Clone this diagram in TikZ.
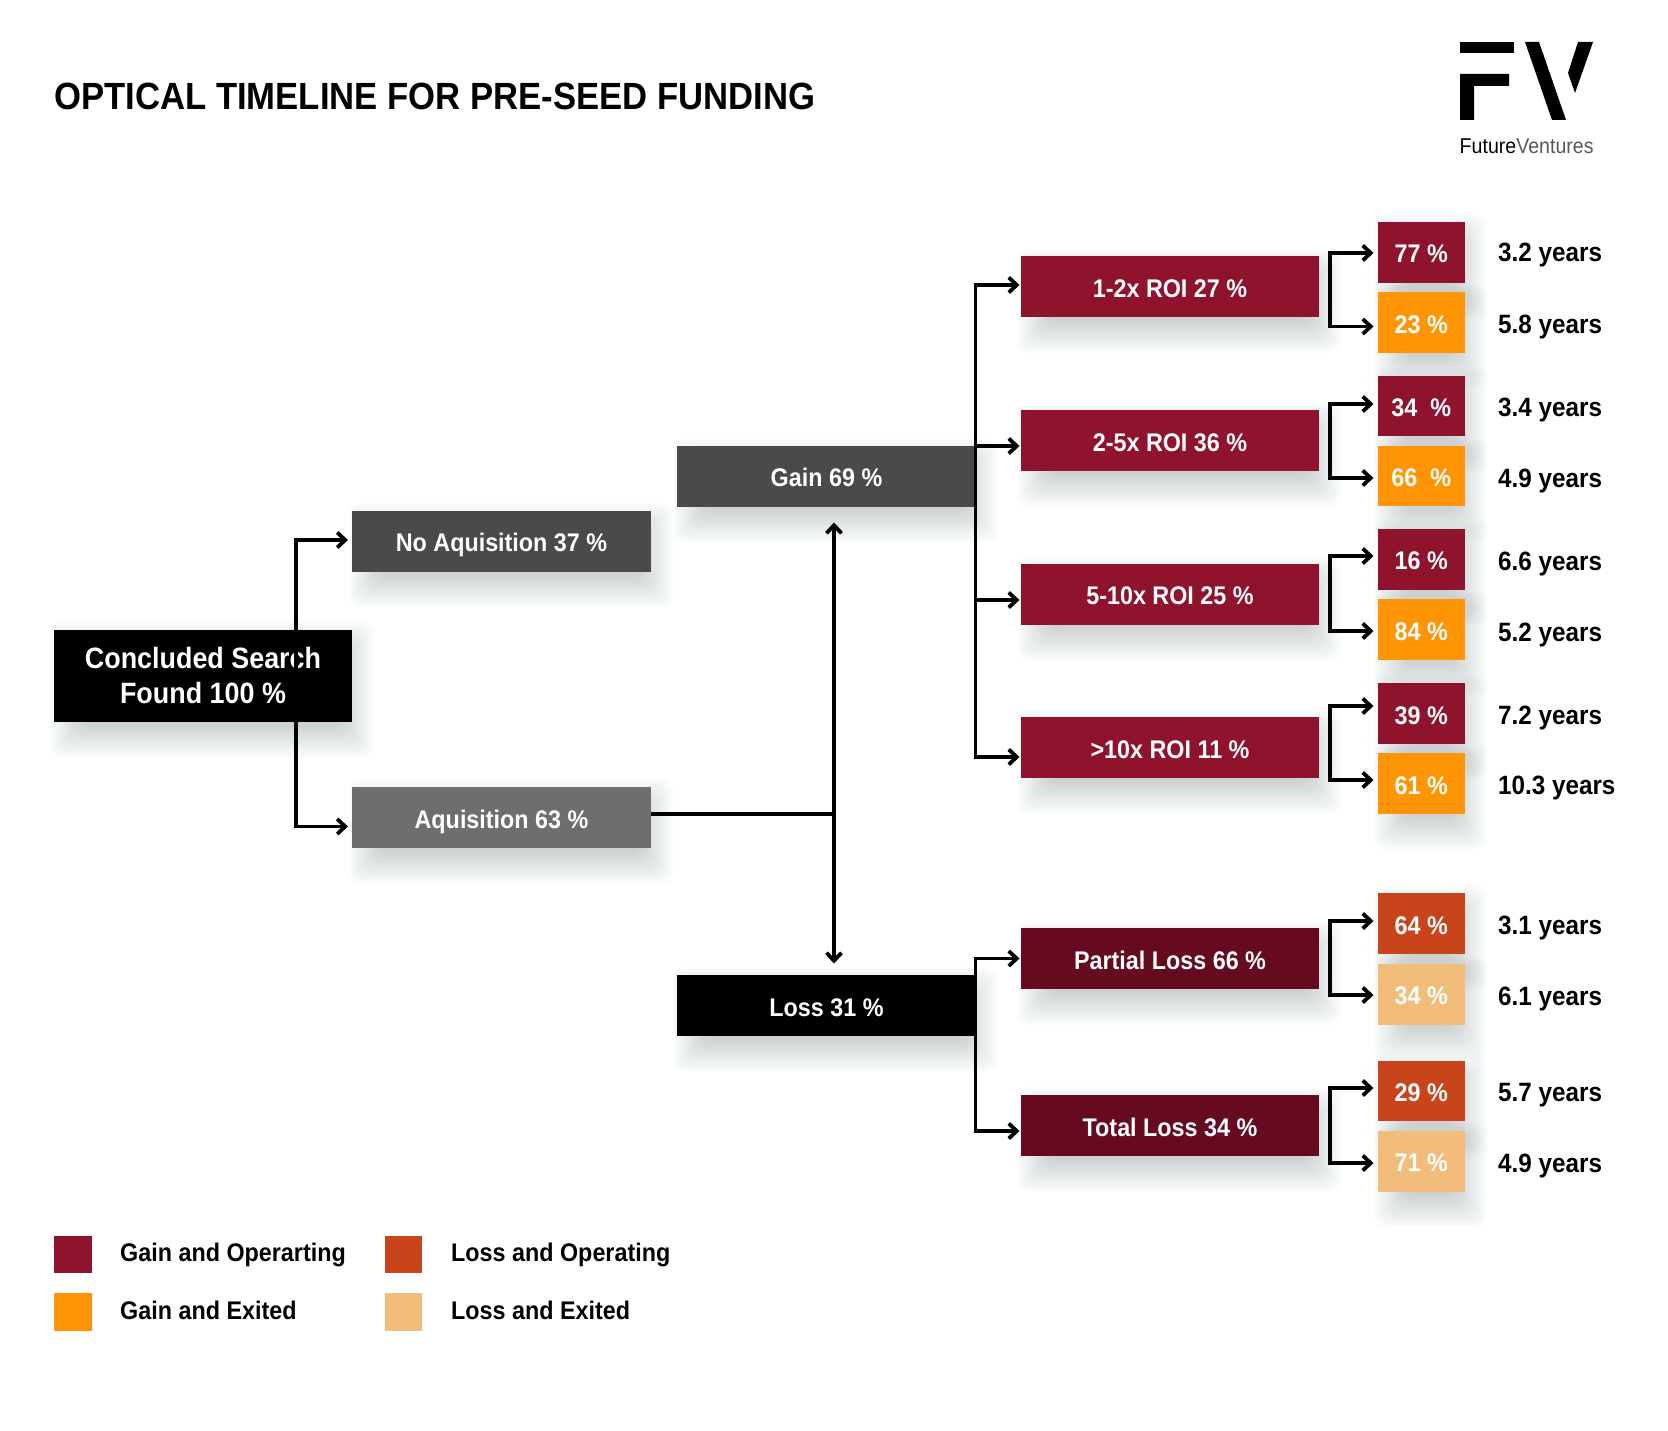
\documentclass[tikz,border=0pt]{standalone}
\usepackage{fontspec}
\setmainfont{Liberation Sans}[FakeStretch=0.915]
\usetikzlibrary{arrows.meta,backgrounds}
\pgfdeclarelayer{paper}
\pgfsetlayers{paper,background,main}
\definecolor{crim}{HTML}{8F132C}
\definecolor{oran}{HTML}{FF9505}
\definecolor{maro}{HTML}{650A1F}
\definecolor{gdark}{HTML}{4A4A4A}
\definecolor{gmid}{HTML}{6E6E6E}
\definecolor{lossop}{HTML}{C9441A}
\definecolor{lossex}{HTML}{F2BC7A}
\definecolor{shadowc}{HTML}{4A5559}
\tikzset{
  every node/.style={font=\fontsize{25.5}{34}\selectfont\bfseries},
  boxn/.style={inner sep=0pt,outer sep=0pt,text=white,align=center,text height=21pt,text depth=0pt},
  yearlab/.style={anchor=west,inner sep=0pt,text=black,text height=18pt,text depth=6pt,yshift=-3pt,font=\fontsize{26.5}{30}\selectfont\bfseries},
  leglab/.style={anchor=west,inner sep=0pt,text=black,text height=18pt,text depth=6pt,yshift=-1pt,font=\fontsize{25.5}{30}\selectfont\bfseries},
  conn/.style={line width=3.8pt,draw=black,{Straight Barb[length=8pt,width=15pt,line width=3.8pt]}-{Straight Barb[length=8pt,width=15pt,line width=3.8pt]},miter limit=10},
  oneway/.style={line width=3.8pt,draw=black,-{Straight Barb[length=8pt,width=15pt,line width=3.8pt]}},
  plain/.style={line width=3.4pt,draw=black},
  logo/.style={fill=black,draw=none}
}
% name, x1, y1, x2, y2, fill, text
\newcommand\bxn[7]{%
  \pgfmathsetmacro\bw{#4-#2}\pgfmathsetmacro\bh{#5-#3}%
  \pgfmathsetmacro\bcx{(#4+#2)/2}\pgfmathsetmacro\bcy{(#5+#3)/2}%
  \node[boxn,minimum width=\bw pt,minimum height=\bh pt,fill=#6] (#1) at (\bcx,\bcy) {#7};%
  \begin{scope}[on background layer]
    \foreach \d in {-15,-13.5,...,18}{
      \fill[shadowc,opacity=.010,rounded corners=10pt]
        ([shift={(14-\d,10-\d)}]#1.north west) rectangle ([shift={(4+\d,18+\d)}]#1.south east);
    }
  \end{scope}%
}
% name, y, text
\newcommand\yrs[3]{\node[yearlab] (#1) at (1498,#2) {#3};}
% a, b, upper y, lower y
\newcommand\brk[4]{%
  \coordinate (#1j) at (1330,#3);\coordinate (#2j) at (1330,#4);%
  \draw[conn,shorten <=4pt,shorten >=4pt] (#1.west |- #1j) -- (#1j) -- (#2j) -- (#2.west |- #2j);%
}
\begin{document}
\begin{tikzpicture}[x=1pt,y=-1pt]
\begin{pgfonlayer}{paper}
\fill[white] (0,0) rectangle (1668,1431);
\end{pgfonlayer}
\useasboundingbox (0,0) rectangle (1668,1431);

\node[anchor=west,inner sep=0pt,text=black,font=\fontsize{37.9}{44}\selectfont\bfseries] (title) at (54,96) {OPTICAL TIMELINE FOR PRE-SEED FUNDING};

% logo
\fill[logo] (1460,42) rectangle (1514,53.5);
\fill[logo] (1460,74) -- (1509,74) -- (1509,86) -- (1474,86) -- (1474,120) -- (1460,120) -- cycle;
\fill[logo] (1525,42) -- (1539,42) -- (1566,120) -- (1552,120) -- cycle;
\fill[logo] (1578,42) -- (1593,42) -- (1575,93) -- (1568,73) -- cycle;
\node[anchor=west,inner sep=0pt,text=black,font=\fontsize{21.4}{24}\selectfont] (logotext) at (1459.5,146) {Future{\color{black!65}Ventures}};

% left tree
\bxn{concl}{54}{629.5}{352}{722}{black,font=\fontsize{29.4}{35}\selectfont\bfseries,text height=,text depth=}{Concluded Search\\Found 100 \%}
\bxn{noaq}{352}{511}{651}{571.5}{gdark}{No Aquisition 37 \%}
\bxn{aq}{352}{787}{651}{848}{gmid}{Aquisition 63 \%}
\bxn{gain}{677}{446}{976}{506.5}{gdark}{Gain 69 \%}
\bxn{loss}{677}{975}{976}{1036}{black}{Loss 31 \%}

% ROI boxes
\bxn{roia}{1021}{256.5}{1319}{317}{crim}{1-2x ROI 27 \%}
\bxn{roib}{1021}{410}{1319}{471}{crim}{2-5x ROI 36 \%}
\bxn{roic}{1021}{564}{1319}{624.5}{crim}{5-10x ROI 25 \%}
\bxn{roid}{1021}{717}{1319}{778}{crim}{>10x ROI 11 \%}
\bxn{lossa}{1021}{928}{1319}{989}{maro}{Partial Loss 66 \%}
\bxn{lossb}{1021}{1095}{1319}{1156}{maro}{Total Loss 34 \%}

% share boxes
\bxn{sa}{1377.5}{222}{1465}{283}{crim}{77 \%}
\bxn{sb}{1377.5}{292.5}{1465}{353}{oran}{23 \%}
\bxn{sc}{1377.5}{375.5}{1465}{436}{crim}{34\ \ \%}
\bxn{sd}{1377.5}{446}{1465}{506}{oran}{66\ \ \%}
\bxn{se}{1377.5}{529}{1465}{589.5}{crim}{16 \%}
\bxn{sf}{1377.5}{599}{1465}{660}{oran}{84 \%}
\bxn{sg}{1377.5}{683}{1465}{744}{crim}{39 \%}
\bxn{sh}{1377.5}{753}{1465}{814}{oran}{61 \%}
\bxn{si}{1377.5}{893}{1465}{954}{lossop}{64 \%}
\bxn{sj}{1377.5}{964}{1465}{1024.5}{lossex}{34 \%}
\bxn{sk}{1377.5}{1060.5}{1465}{1121}{lossop}{29 \%}
\bxn{sl}{1377.5}{1131}{1465}{1191.5}{lossex}{71 \%}

% years
\yrs{ya}{253}{3.2 years}
\yrs{yb}{324.5}{5.8 years}
\yrs{yc}{407}{3.4 years}
\yrs{yd}{478}{4.9 years}
\yrs{ye}{561}{6.6 years}
\yrs{yf}{632}{5.2 years}
\yrs{yg}{715}{7.2 years}
\yrs{yh}{785}{10.3 years}
\yrs{yi}{925.5}{3.1 years}
\yrs{yj}{996}{6.1 years}
\yrs{yk}{1092.5}{5.7 years}
\yrs{yl}{1163}{4.9 years}

% connectors: root
\coordinate (rootnoaq) at (296,540);
\coordinate (rootaq) at (296,826.5);
\draw[conn,shorten <=4pt,shorten >=4pt] (noaq.west |- rootnoaq) -- (rootnoaq) -- (rootaq) -- (aq.west |- rootaq);

% connectors: aquisition to gain and loss
\coordinate (split) at (834,814);
\draw[plain] (aq.east |- split) -- (split);
\draw[conn,line width=3.2pt,shorten <=16pt,shorten >=11.5pt] (gain.south -| split) -- (loss.north -| split);

% connectors: gain to ROI
\coordinate (gt) at (975.5,285);
\coordinate (gb) at (975.5,446);
\coordinate (gc) at (975.5,600);
\coordinate (gd) at (975.5,757);
\draw[conn,shorten <=1.5pt,shorten >=1.5pt] (roia.west |- gt) -- (gt) -- (gd) -- (roid.west |- gd);
\draw[oneway,shorten >=1.5pt] (gb) -- (roib.west |- gb);
\draw[oneway,shorten >=1.5pt] (gc) -- (roic.west |- gc);

% connectors: loss to outcomes
\coordinate (lt) at (975.5,958.5);
\coordinate (lb) at (975.5,1131);
\draw[conn,shorten <=1.5pt,shorten >=1.5pt] (lossa.west |- lt) -- (lt) -- (lb) -- (lossb.west |- lb);

% brackets
\brk{sa}{sb}{253}{326.5}
\brk{sc}{sd}{404}{478}
\brk{se}{sf}{556}{631}
\brk{sg}{sh}{706}{780}
\brk{si}{sj}{921}{995}
\brk{sk}{sl}{1088}{1163}

% legend
\node[fill=crim,minimum width=37.5pt,minimum height=37pt,inner sep=0pt] (lega) at (72.75,1254.5) {};
\node[fill=oran,minimum width=37.5pt,minimum height=37.5pt,inner sep=0pt] (legb) at (72.75,1312.2) {};
\node[fill=lossop,minimum width=37.5pt,minimum height=37pt,inner sep=0pt] (legc) at (403.5,1254.5) {};
\node[fill=lossex,minimum width=37.5pt,minimum height=37.5pt,inner sep=0pt] (legd) at (403.5,1312.2) {};
\node[leglab] (legat) at (120,1254) {Gain and Operarting};
\node[leglab] (legbt) at (120,1312) {Gain and Exited};
\node[leglab] (legct) at (451,1254) {Loss and Operating};
\node[leglab] (legdt) at (451,1312) {Loss and Exited};
\end{tikzpicture}
\end{document}
